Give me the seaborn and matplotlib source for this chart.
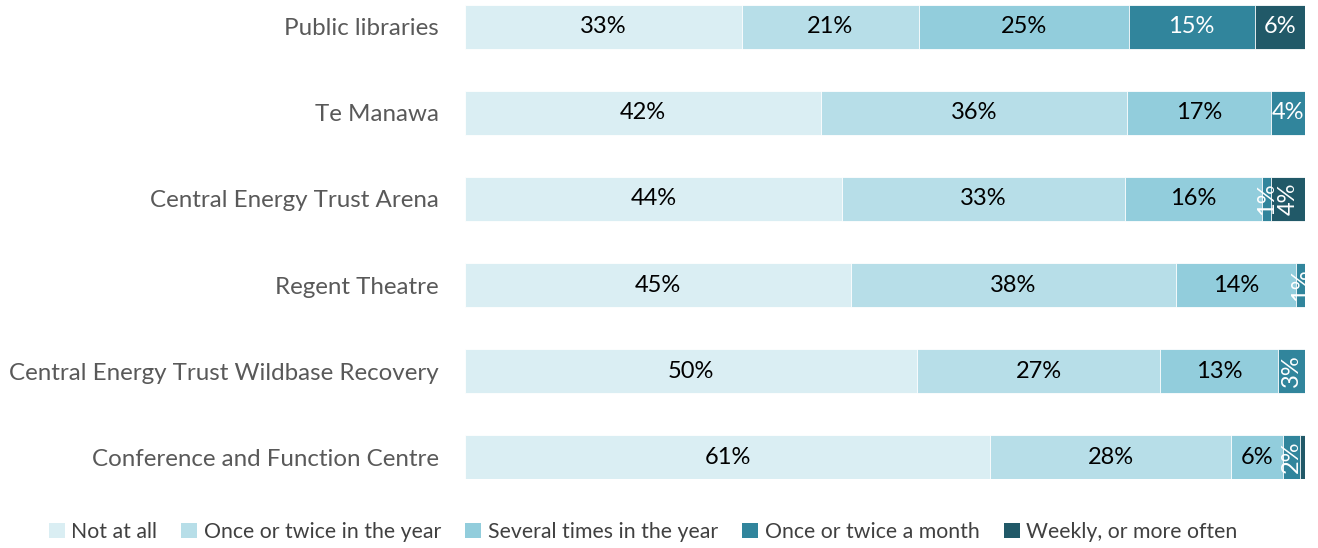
import numpy as np
import pandas as pd
import matplotlib
matplotlib.use("Agg")
import matplotlib.pyplot as plt
from matplotlib.patches import Patch
import seaborn as sns

# data (percent of respondents)
venues = ["Public libraries", "Te Manawa", "Central Energy Trust Arena", "Regent Theatre",
          "Central Energy Trust Wildbase Recovery", "Conference and Function Centre"]
not_at_all = [33, 42, 44, 45, 50, 61]
once_twice_year = [21, 36, 33, 38, 27, 28]
several_year = [25, 17, 16, 14, 13, 6]
once_twice_month = [15, 4, 1, 1, 3, 2]
weekly = [6, 0, 4, 0, 0, 0.6]

series_names = ["Not at all", "Once or twice in the year", "Several times in the year",
                "Once or twice a month", "Weekly, or more often"]
colors = ["#DAEEF3", "#B7DEE8", "#92CDDC", "#31859C", "#215968"]
text_colors = ["black", "black", "black", "white", "white"]

# labels that are drawn sideways because the segment is too thin
rotated = {(2, 3), (2, 4), (3, 3), (4, 3), (5, 3)}

vals = np.array([not_at_all, once_twice_year, several_year, once_twice_month, weekly], dtype=float)
share = vals / vals.sum(axis=0) * 100   # 100% stacked, like the original
cum = np.cumsum(share, axis=0)

sns.set_theme(style="white")
plt.rcParams["font.family"] = ["Lato", "DejaVu Sans"]

fig = plt.figure(figsize=(13.18, 5.48), dpi=100)
ax = fig.add_axes([465 / 1318, 1 - 479 / 548, 840 / 1318, 474 / 548])

# draw from the full bar back to the first segment so each layer shows its own part
for i in range(len(series_names) - 1, -1, -1):
    df = pd.DataFrame({"venue": venues, "end": cum[i]})
    sns.barplot(data=df, x="end", y="venue", order=venues, orient="h", color=colors[i],
                saturation=1, width=0.51, edgecolor="white", linewidth=0.6, ax=ax)

for i in range(len(series_names)):
    for j in range(len(venues)):
        v = vals[i, j]
        if v < 1:
            continue
        mid = cum[i, j] - share[i, j] / 2
        rot = 90 if (j, i) in rotated else 0
        ax.text(mid, j, f"{v:.0f}%", ha="center", va="center", rotation=rot,
                color=text_colors[i], fontsize=17)

ax.set_xlim(0, 100)
ax.set_ylim(5.255, -0.255)
ax.set_xlabel("")
ax.set_ylabel("")
ax.set_xticks([])
ax.tick_params(axis="y", length=0, pad=19, labelsize=17.4, labelcolor="#595959")
sns.despine(ax=ax, left=True, bottom=True)

handles = [Patch(facecolor=c, edgecolor="none") for c in colors]
fig.legend(handles, series_names, loc="center", bbox_to_anchor=(643 / 1318, 1 - 532 / 548),
           ncol=5, frameon=False, fontsize=15.3, handlelength=0.75, handleheight=0.75,
           handletextpad=0.3, columnspacing=1.15, labelcolor="#404040")

fig.savefig("out.png", dpi=100)
